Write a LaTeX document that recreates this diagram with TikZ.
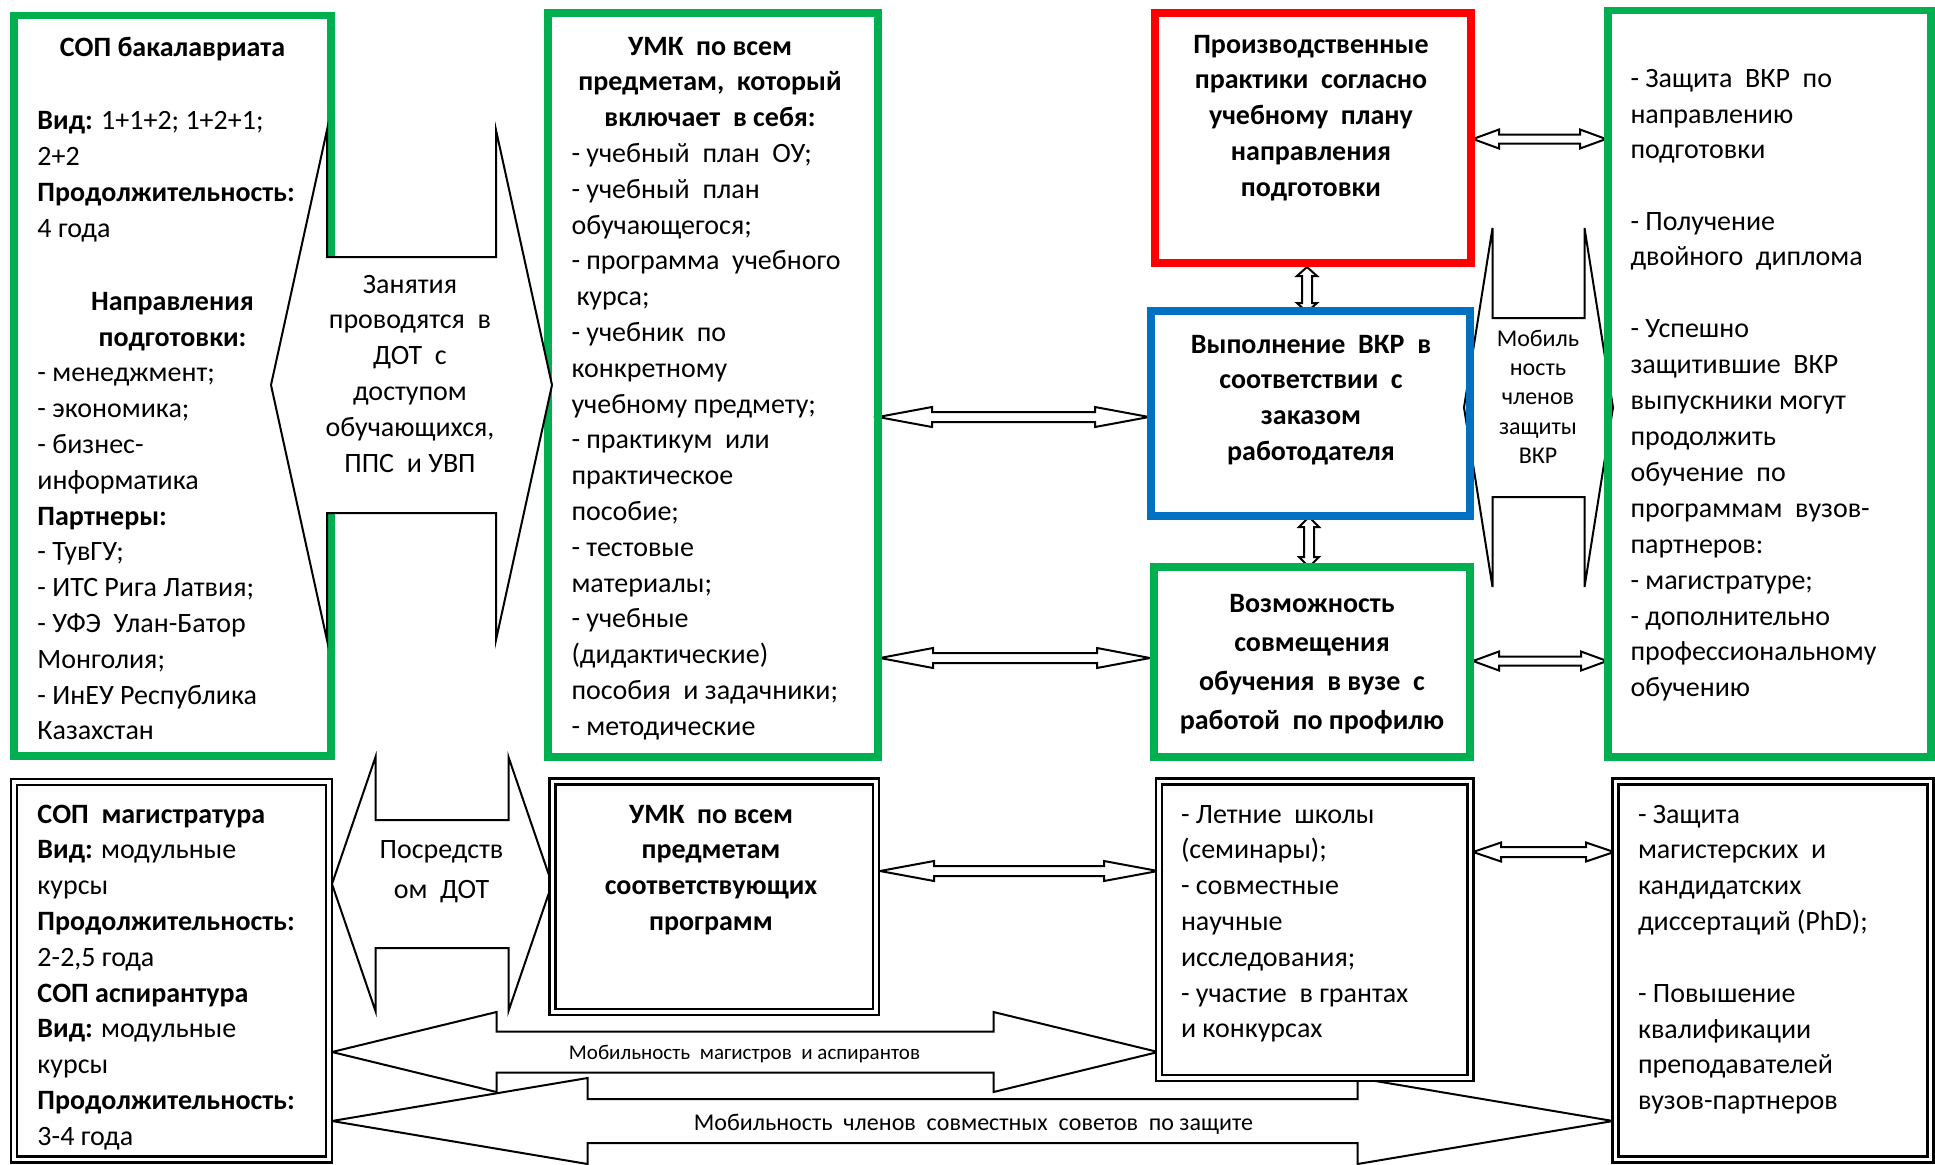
\documentclass[tikz,border=0pt]{standalone}
\usepackage{fontspec}
\setmainfont{Carlito}
\usetikzlibrary{calc,fit}
\definecolor{ogreen}{HTML}{00B050}
\definecolor{oblue}{HTML}{0070C0}
\definecolor{ored}{HTML}{FF0000}
\newcommand\bx{\fontsize{14}{17.9}\selectfont}
\newcommand\bxf{\fontsize{14}{17.95}\selectfont}
\newcommand\bxe{\fontsize{14}{19.5}\selectfont}
\newcommand\bxs{\fontsize{12}{14.6}\selectfont}
% horizontal double block arrow: left tip, right tip, head length, head half-height, shaft half-height
\newcommand\hdarrow[5]{%
  \draw[barrow] (#1) -- ++(#3,-#4) -- ++(0,#4-#5) -- ($(#2)+(-#3,-#5)$) -- ++(0,-#4+#5)
    -- (#2) -- ++(-#3,#4) -- ++(0,-#4+#5) -- ($(#1)+(#3,#5)$) -- ++(0,#4-#5) -- cycle;}
% vertical double block arrow: top tip, bottom tip, head length, head half-width, shaft half-width
\newcommand\vdarrow[5]{%
  \draw[barrow] (#1) -- ++(#4,#3) -- ++(-#4+#5,0) -- ($(#2)+(#5,-#3)$) -- ++(#4-#5,0)
    -- (#2) -- ++(-#4,-#3) -- ++(#4-#5,0) -- ($(#1)+(-#5,#3)$) -- ++(-#4+#5,0) -- cycle;}
\begin{document}
\begin{tikzpicture}[x=0.5pt,y=-0.5pt,
  gbox/.style={draw=ogreen,line width=3.75pt,inner sep=0pt,outer sep=0pt},
  rbox/.style={draw=ored,line width=3.75pt,inner sep=0pt,outer sep=0pt},
  bbox/.style={draw=oblue,line width=3.75pt,inner sep=0pt,outer sep=0pt},
  dbox/.style={draw=black,double=white,line width=1.2pt,double distance=1.8pt,inner sep=0pt,outer sep=0pt},
  barrow/.style={draw=black,fill=white,line width=1pt,line join=miter},
  txt/.style={inner sep=0pt,outer sep=0pt,font=\bx,align=left},
  ctxt/.style={inner sep=0pt,outer sep=0pt,font=\bx,align=center}]
\useasboundingbox (0,0) rectangle (1935,1164);

% ---------- connectors drawn under the boxes ----------
\coordinate (a2l) at (332,884);  \coordinate (a2r) at (552,884);
\hdarrow{a2l}{a2r}{43.5}{127}{64}
\coordinate (bdl) at (878,417);  \coordinate (bdr) at (1149,417);
\hdarrow{bdl}{bdr}{54}{10}{5}
\coordinate (bel) at (880,658);  \coordinate (ber) at (1150,658);
\hdarrow{bel}{ber}{53}{10}{5}
\coordinate (cfl) at (1473,139); \coordinate (cfr) at (1606,139);
\hdarrow{cfl}{cfr}{26}{9.5}{4.5}
\coordinate (efl) at (1473,661); \coordinate (efr) at (1607,661);
\hdarrow{efl}{efr}{26}{9.5}{4.5}
\coordinate (mvl) at (1464,407.5); \coordinate (mvr) at (1613,407.5);
\hdarrow{mvl}{mvr}{28.5}{179.5}{89.5}
\coordinate (hil) at (880,871);  \coordinate (hir) at (1158,871);
\hdarrow{hil}{hir}{54}{10}{5}
\coordinate (ijl) at (1473,852); \coordinate (ijr) at (1614,852);
\hdarrow{ijl}{ijr}{28}{9.5}{5}
\coordinate (m3l) at (332,1052); \coordinate (m3r) at (1158,1052);
\hdarrow{m3l}{m3r}{164.5}{40}{20.5}
\coordinate (m4l) at (332,1121); \coordinate (m4r) at (1613,1121);
\hdarrow{m4l}{m4r}{255.5}{43}{22}
\coordinate (cdt) at (1307,267); \coordinate (cdb) at (1307,312);
\vdarrow{cdt}{cdb}{9}{10}{5}
\coordinate (det) at (1309,517); \coordinate (deb) at (1309,567);
\vdarrow{det}{deb}{10}{10}{5}

% ---------- boxes ----------
\node[gbox,fit={(14,15.5) (331,756)}] (A) {};
\node[gbox,fit={(548,13) (878,757)}] (B) {};
\node[rbox,fit={(1155,13) (1471,263)}] (C) {};
\node[bbox,fit={(1151,311) (1470,516)}] (D) {};
\node[gbox,fit={(1154,567) (1470,757)}] (E) {};
\node[gbox,fit={(1608,10.5) (1931,757)}] (F) {};
\node[dbox,fit={(14,782) (329,1159.5)}] (G) {};
\node[dbox,fit={(552.5,781.5) (876,1012)}] (H) {};
\node[dbox,fit={(1159,781.5) (1470.5,1078)}] (I) {};
\node[dbox,fit={(1615.5,781.5) (1930.5,1159.5)}] (J) {};

% ---------- big arrow over box A / B edges ----------
\coordinate (a1l) at (271,385);  \coordinate (a1r) at (552,385);
\hdarrow{a1l}{a1r}{56}{255}{128}

% ---------- texts ----------
\node[txt,anchor=north west] (Atxt) at (37.5,31) {\strut\makebox[135pt][c]{\textbf{СОП бакалавриата}}\\[19pt]
\textbf{Вид:} 1+1+2; 1+2+1;\\
2+2\\
\textbf{Продолжительность:}\\
4 года\\[18.6pt]
\makebox[135pt][c]{\textbf{Направления}}\\
\makebox[135pt][c]{\textbf{подготовки:}}\\
- менеджмент;\\
- экономика;\\
- бизнес-\\
информатика\\
\textbf{Партнеры:}\\
- ТувГУ;\\
- ИТС Рига Латвия;\\
- УФЭ~ Улан-Батор\\
Монголия;\\
- ИнЕУ Республика\\
Казахстан};

\node[txt,anchor=north west] (Btxt) at (571.5,30) {\strut\makebox[138.5pt][c]{\textbf{УМК~ по всем}}\\
\makebox[138.5pt][c]{\textbf{предметам,~ который}}\\
\makebox[138.5pt][c]{\textbf{включает~ в себя:}}\\
- учебный~ план~ ОУ;\\
- учебный~ план\\
обучающегося;\\
- программа~ учебного\\
\hspace*{2.5pt}курса;\\
- учебник~ по\\
конкретному\\
учебному предмету;\\
- практикум~ или\\
практическое\\
пособие;\\
- тестовые\\
материалы;\\
- учебные\\
(дидактические)\\
пособия~ и задачники;\\
- методические};

\node[ctxt,anchor=north,font=\bx\bfseries] (Ctxt) at (1311,28) {\strut Производственные\\
практики~ согласно\\
учебному~ плану\\
направления\\
подготовки};

\node[ctxt,anchor=north,font=\bx\bfseries] (Dtxt) at (1311,328) {\strut Выполнение~ ВКР~ в\\
соответствии~ с\\
заказом\\
работодателя};

\node[ctxt,anchor=north,font=\bxe\bfseries] (Etxt) at (1312,585) {\strut Возможность\\
совмещения\\
обучения~ в вузе~ с\\
работой~ по профилю};

\node[txt,anchor=north west,font=\bxf] (Ftxt) at (1630.5,62) {\strut - Защита~ ВКР~ по\\
направлению\\
подготовки\\[17.6pt]
- Получение\\
двойного~ диплома\\[18pt]
- Успешно\\
защитившие~ ВКР\\
выпускники могут\\
продолжить\\
обучение~ по\\
программам~ вузов-\\
партнеров:\\
- магистратуре;\\
- дополнительно\\
профессиональному\\
обучению};

\node[txt,anchor=north west] (Gtxt) at (37.5,798) {\strut\textbf{СОП~ магистратура}\\
\textbf{Вид:} модульные\\
курсы\\
\textbf{Продолжительность:}\\
2-2,5 года\\
\textbf{СОП аспирантура}\\
\textbf{Вид:} модульные\\
курсы\\
\textbf{Продолжительность:}\\
3-4 года};

\node[ctxt,anchor=north,font=\bx\bfseries] (Htxt) at (711,798) {\strut УМК~ по всем\\
предметам\\
соответствующих\\
программ};

\node[txt,anchor=north west] (Itxt) at (1181,798) {\strut - Летние~ школы\\
(семинары);\\
- совместные\\
научные\\
исследования;\\
- участие~ в грантах\\
и конкурсах};

\node[txt,anchor=north west] (Jtxt) at (1638,798) {\strut - Защита\\
магистерских~ и\\
кандидатских\\
диссертаций (PhD);\\[18pt]
- Повышение\\
квалификации\\
преподавателей\\
вузов-партнеров};

% arrow labels
\node[ctxt,anchor=north] (a1txt) at (410,268) {\strut Занятия\\
проводятся~ в\\
ДОТ~ с\\
доступом\\
обучающихся,\\
ППС~ и УВП};
\node[ctxt,anchor=north,font=\fontsize{14}{20}\selectfont] (a2txt) at (441.5,830) {\strut Посредств\\
ом~ ДОТ};
\node[ctxt,anchor=north,font=\bxs] (mvtxt) at (1538,326) {\strut Мобиль\\
ность\\
членов\\
защиты\\
ВКР};
\node[inner sep=0pt,anchor=base,font=\fontsize{10.5}{12}\selectfont] (m3txt) at (744.5,1059) {Мобильность~ магистров~ и аспирантов};
\node[inner sep=0pt,anchor=base,font=\fontsize{12}{14}\selectfont] (m4txt) at (973.5,1130) {Мобильность~ членов~ совместных~ советов~ по защите};
\end{tikzpicture}
\end{document}
